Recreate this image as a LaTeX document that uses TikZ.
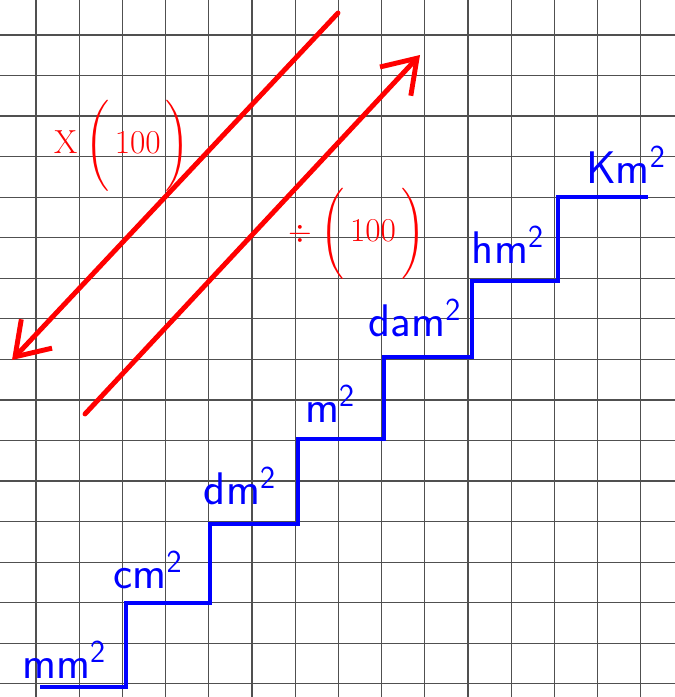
\documentclass[tikz,border=0pt]{standalone}
\usepackage{amsmath}
\usetikzlibrary{arrows.meta}
\definecolor{gridgray}{HTML}{505050}
\definecolor{stairblue}{HTML}{0000FF}
\definecolor{arrowred}{HTML}{FF0000}
\tikzset{
  gridline/.style={draw=gridgray,line width=0.7pt},
  stairline/.style={draw=stairblue,line width=2.4pt},
  unitlabel/.style={text=stairblue,font=\sffamily\fontsize{26}{26}\selectfont,inner sep=0pt},
  convarrow/.style={draw=arrowred,line width=2.8pt,line cap=round,
    -{Straight Barb[length=18pt,width=24pt]}},
  convlabel/.style={text=arrowred,font=\fontsize{19}{19}\selectfont,inner sep=0pt}
}
\begin{document}
\begin{tikzpicture}[x=0.02cm,y=-0.02cm]
    \useasboundingbox (0,0) rectangle (675,697);
    \fill[white] (0,0) rectangle (675,697);
    \foreach \i in {0,...,14} {
      \draw[gridline] ({36+43.2*\i},0) -- ({36+43.2*\i},697);
    }
    \foreach \j in {0,...,16} {
      \draw[gridline] (0,{35+40.55*\j}) -- (675,{35+40.55*\j});
    }
    % staircase of units
    \draw[stairline] (40,687) -- (126,687) -- (126,603) -- (210,603) -- (210,524)
      -- (298,524) -- (298,439) -- (384,439) -- (384,357) -- (472,357)
      -- (472,281) -- (558,281) -- (558,197) -- (648,197);
    \node[unitlabel] (mm) at (64,660) {mm\textsuperscript{2}};
    \node[unitlabel] (cm) at (148,570) {cm\textsuperscript{2}};
    \node[unitlabel] (dm) at (240,486) {dm\textsuperscript{2}};
    \node[unitlabel] (m) at (330,404) {m\textsuperscript{2}};
    \node[unitlabel] (dam) at (415,318) {dam\textsuperscript{2}};
    \node[unitlabel] (hm) at (508,245) {hm\textsuperscript{2}};
    \node[unitlabel] (km) at (626,165) {Km\textsuperscript{2}};
    % conversion arrows
    \coordinate (mulstart) at (338,13);
    \coordinate (mulend) at (12,360);
    \coordinate (divstart) at (85,414);
    \coordinate (divend) at (420,55);
    \draw[convarrow] (mulstart) -- (mulend);
    \draw[convarrow] (divstart) -- (divend);
    \node[convlabel] (mullabel) at (122,146) {X$\;\Bigg(\,$100$\,\Bigg)$};
    \node[convlabel] (divlabel) at (357,234) {$\div\;\Bigg(\,$100$\,\Bigg)$};
\end{tikzpicture}
\end{document}
